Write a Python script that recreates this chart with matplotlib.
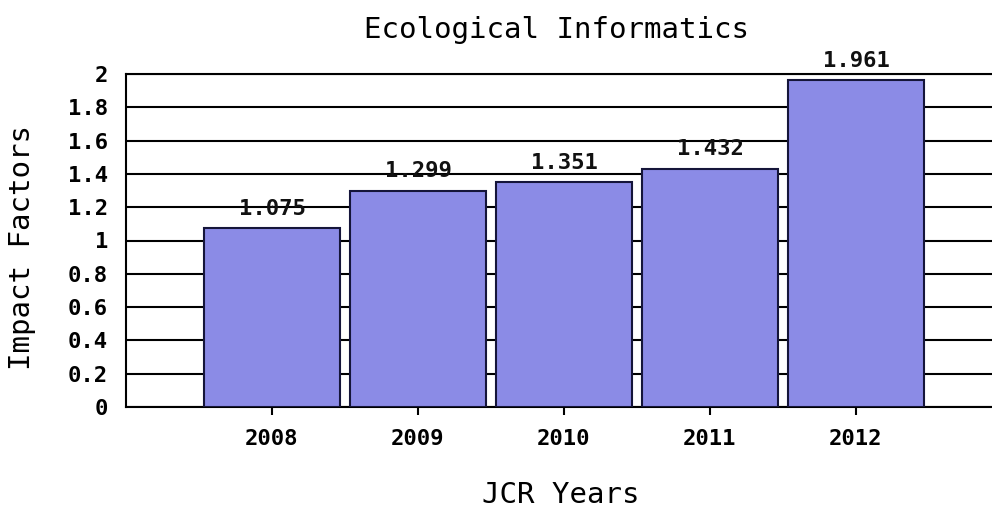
import numpy as np
import matplotlib
matplotlib.use('Agg')
import matplotlib.pyplot as plt

# data
years = ['2008', '2009', '2010', '2011', '2012']
impact = [1.075, 1.299, 1.351, 1.432, 1.961]
value_labels = ['1.075', '1.299', '1.351', '1.432', '1.961']
yticks = [0, 0.2, 0.4, 0.6, 0.8, 1, 1.2, 1.4, 1.6, 1.8, 2]
ytick_labels = ['0', '0.2', '0.4', '0.6', '0.8', '1', '1.2', '1.4', '1.6', '1.8', '2']

plt.rcParams['font.family'] = ['DejaVu Sans Mono']

fig = plt.figure(figsize=(9.92, 5.09), dpi=100)
fig.patch.set_facecolor('white')
# axes runs a bit past the right edge, like the original picture
ax = fig.add_axes([126 / 992, 102 / 509, 876 / 992, 333 / 509])

x = np.arange(1, len(years) + 1)
ax.bar(x, impact, width=0.925, color='#8b8be6', edgecolor='#15153a',
       linewidth=1.5, zorder=3)

for xi, v, lab in zip(x, impact, value_labels):
    ax.annotate(lab, (xi, v), xytext=(0, 14), textcoords='offset points',
                ha='center', va='center', fontsize=16, fontweight='bold',
                color='#111111', zorder=4)

ax.set_xlim(0, 6)
ax.set_ylim(0, 2)
ax.set_yticks(yticks)
ax.set_yticklabels(ytick_labels)
ax.set_xticks(x)
ax.set_xticklabels(years)
ax.yaxis.grid(True, color='black', linewidth=1.5, zorder=0)
ax.set_axisbelow(True)

ax.tick_params(axis='y', length=0, pad=13, labelsize=16)
ax.tick_params(axis='x', length=6, width=1.5, pad=10, labelsize=16)
for lab in ax.get_xticklabels() + ax.get_yticklabels():
    lab.set_fontweight('bold')

for s in ax.spines.values():
    s.set_linewidth(1.5)
    s.set_color('black')

fig.text(0.5 + 60 / 992, 1 - 30 / 509, 'Ecological Informatics',
         ha='center', va='center', fontsize=21)
fig.text(561 / 992, 14 / 509, 'JCR Years', ha='center', va='center', fontsize=21)
fig.text(22 / 992, 1 - 248 / 509, 'Impact Factors', ha='center', va='center',
         rotation=90, fontsize=21)

fig.savefig('out.png', dpi=100, facecolor='white')
